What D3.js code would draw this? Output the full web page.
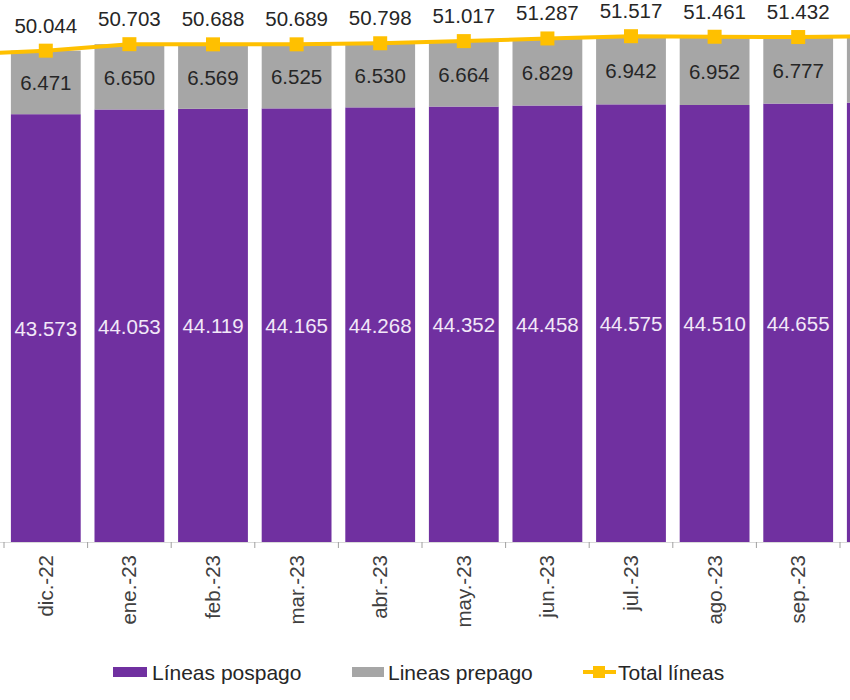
<!DOCTYPE html>
<html>
<head>
<meta charset="utf-8">
<script src="https://cdn.jsdelivr.net/npm/d3@7"></script>
<style>
  html, body { margin: 0; padding: 0; background: #fff; }
  svg { display: block; font-family: "Liberation Sans", Arial, sans-serif; }
</style>
</head>
<body>
<svg id="chart" width="850" height="700"></svg>
<script>
// Data (values in millions of lines); first and last months are only partly visible (no labels shown)
const categories = ["nov.-22", "dic.-22", "ene.-23", "feb.-23", "mar.-23", "abr.-23", "may.-23", "jun.-23", "jul.-23", "ago.-23", "sep.-23", "oct.-23"];
const pospago = [43.30, 43.573, 44.053, 44.119, 44.165, 44.268, 44.352, 44.458, 44.575, 44.510, 44.655, 44.75];
const prepago = [6.37, 6.471, 6.650, 6.569, 6.525, 6.530, 6.664, 6.829, 6.942, 6.952, 6.777, 6.75];
const total = [49.67, 50.044, 50.703, 50.688, 50.689, 50.798, 51.017, 51.287, 51.517, 51.461, 51.432, 51.50];
const legendLabels = ["Líneas pospago", "Lineas prepago", "Total líneas"];

const colPos = "#7030a0", colPre = "#a6a6a6", colTot = "#ffc000";

const svg = d3.select("#chart");
const baseY = 542;

const xStep = d3.scaleBand().domain(categories).range([-79.6, 923.6]).padding(0);
const xBar = d3.scaleBand().domain(categories).range([-79.6, 923.6]).paddingInner(0.165).paddingOuter(0.0825);
const y = d3.scaleLinear().domain([0, 55]).range([baseY, 2]);

const data = categories.map((c, i) => ({ c, pos: pospago[i], pre: prepago[i], tot: total[i] }));
const shown = data.slice(1, -1);          // months whose labels are visible
const fmt = d3.format(".3f");

const g = svg.append("g");

// Bars
g.selectAll("rect.pos").data(data).join("rect")
  .attr("x", d => xBar(d.c)).attr("width", xBar.bandwidth())
  .attr("y", d => y(d.pos)).attr("height", d => y(0) - y(d.pos))
  .attr("fill", colPos);
g.selectAll("rect.pre").data(data).join("rect")
  .attr("x", d => xBar(d.c)).attr("width", xBar.bandwidth())
  .attr("y", d => y(d.pos + d.pre)).attr("height", d => y(d.pos) - y(d.pos + d.pre))
  .attr("fill", colPre);

// X axis
const xAxis = d3.axisBottom(xStep).tickSize(0).tickFormat("");
const axG = svg.append("g").attr("transform", `translate(0,${baseY})`).call(xAxis);
axG.select(".domain").attr("stroke", "#d9d9d9");
svg.append("g").selectAll("line").data(categories).join("line")
  .attr("x1", d => xStep(d)).attr("x2", d => xStep(d))
  .attr("y1", baseY).attr("y2", baseY + 6)
  .attr("stroke", "#a0a0a0").attr("stroke-width", 1);
svg.append("g").selectAll("text").data(shown).join("text")
  .attr("transform", d => `translate(${xStep(d.c) + xStep.bandwidth() / 2 + 7},${baseY + 13}) rotate(-90)`)
  .attr("text-anchor", "end")
  .attr("font-size", 20.5).attr("fill", "#404040")
  .text(d => d.c);

// Total line
const cx = d => xStep(d.c) + xStep.bandwidth() / 2;
const line = d3.line().x(cx).y(d => y(d.tot));
g.append("path").datum(data).attr("d", line)
  .attr("fill", "none").attr("stroke", colTot).attr("stroke-width", 4).attr("stroke-linejoin", "round");
g.selectAll("rect.mk").data(data).join("rect")
  .attr("x", d => cx(d) - 7).attr("y", d => y(d.tot) - 7)
  .attr("width", 14).attr("height", 14).attr("fill", colTot);

// Data labels
g.selectAll("text.tot").data(shown).join("text")
  .attr("x", cx).attr("y", d => y(d.tot) - 18)
  .attr("text-anchor", "middle").attr("font-size", 20.5).attr("fill", "#262626")
  .text(d => fmt(d.tot));
g.selectAll("text.pre").data(shown).join("text")
  .attr("x", cx).attr("y", d => (y(d.pos) + y(d.pos + d.pre)) / 2 + 8)
  .attr("text-anchor", "middle").attr("font-size", 20.5).attr("fill", "#262626")
  .text(d => fmt(d.pre));
g.selectAll("text.pos").data(shown).join("text")
  .attr("x", cx).attr("y", d => (y(0) + y(d.pos)) / 2 + 8)
  .attr("text-anchor", "middle").attr("font-size", 20.5).attr("fill", "#f2e8f8")
  .text(d => fmt(d.pos));

// Legend
const leg = svg.append("g").attr("transform", "translate(0,672)");
const legX = [113, 352, 583];
leg.append("rect").attr("x", legX[0]).attr("y", -5).attr("width", 34).attr("height", 10).attr("fill", colPos);
leg.append("rect").attr("x", legX[1]).attr("y", -5).attr("width", 32).attr("height", 10).attr("fill", colPre);
leg.append("line").attr("x1", legX[2]).attr("x2", legX[2] + 33).attr("y1", 0).attr("y2", 0)
  .attr("stroke", colTot).attr("stroke-width", 4);
leg.append("rect").attr("x", legX[2] + 10).attr("y", -6).attr("width", 12).attr("height", 12).attr("fill", colTot);
leg.selectAll("text").data(legendLabels).join("text")
  .attr("x", (d, i) => legX[i] + [39, 36, 35][i]).attr("y", 8)
  .attr("font-size", 21).attr("fill", "#262626")
  .text(d => d);
</script>
</body>
</html>
